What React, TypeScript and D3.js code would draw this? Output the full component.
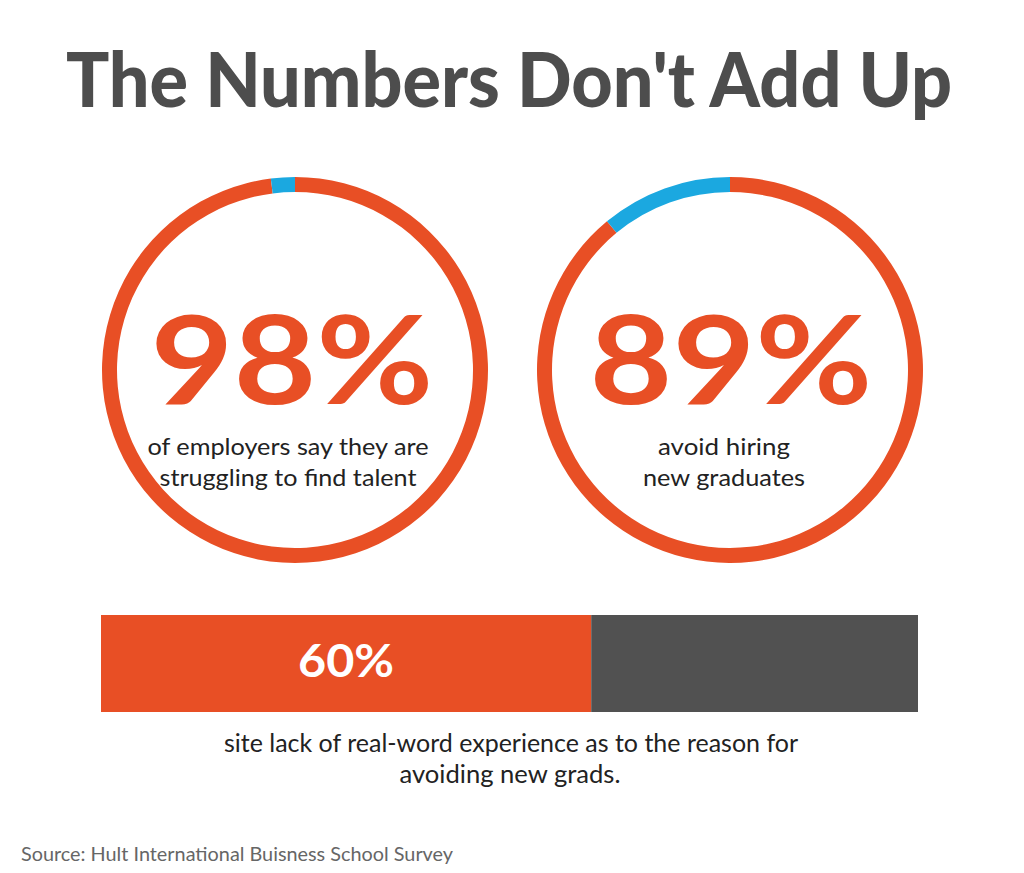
import React from "react";
import * as d3 from "d3";

const title = "The Numbers Don't Add Up";
const ringValues = [98, 89];
const ringNumberLabels = ["98%", "89%"];
const ringCaptions = [
  ["of employers say they are", "struggling to find talent"],
  ["avoid hiring", "new graduates"],
];
const barValue = 60;
const barLabel = "60%";
const barCaption = ["site lack of real-word experience as to the reason for", "avoiding new grads."];
const source = "Source: Hult International Buisness School Survey";

const ORANGE = "#E84F25";
const BLUE = "#1BA8E0";
const GRAY = "#515151";
const FONT = "Lato, 'Open Sans', sans-serif";

export default function App() {
  const W = 1024, H = 873;
  const centers = d3.scaleOrdinal<number, number>().domain([0, 1]).range([295, 730]);
  const cy = 370;
  const outerR = 193, innerR = 178;
  const arc = d3.arc<d3.PieArcDatum<number>>().innerRadius(innerR).outerRadius(outerR);
  const pie = d3.pie<number>().sort(null).value((d) => d);

  const x = d3.scaleLinear().domain([0, 100]).range([101, 918]);
  const barY = 615, barH = 97;

  const numberWidths = [283, 283];
  const captionWidths = [[281, 257], [132, 162]];

  return (
    <svg width={W} height={H} style={{ position: "absolute", left: 0, top: 0, background: "#fff" }}>
      <rect x={0} y={0} width={W} height={H} fill="#fff" />
      <text x={509} y={107} textAnchor="middle" fontFamily={FONT} fontWeight={900} fontSize={76}
        fill="#4d4d4d" textLength={886} lengthAdjust="spacingAndGlyphs">{title}</text>

      {ringValues.map((v, i) => {
        const arcs = pie([v, 100 - v]);
        const cx = centers(i);
        return (
          <g key={i}>
            <g transform={`translate(${cx},${cy})`}>
              {arcs.map((a, j) => (
                <path key={j} d={arc(a) || ""} fill={j === 0 ? ORANGE : BLUE} />
              ))}
            </g>
            <text x={cx - 3 + i * 4} y={404} textAnchor="middle" fontFamily={FONT} fontWeight={700}
              fontSize={122} fill={ORANGE} textLength={numberWidths[i]} lengthAdjust="spacingAndGlyphs">
              {ringNumberLabels[i]}
            </text>
            {ringCaptions[i].map((line, k) => (
              <text key={k} x={cx - 7 + i * 1} y={455 + k * 31} textAnchor="middle" fontFamily={FONT}
                fontSize={24} fill="#222" textLength={captionWidths[i][k]} lengthAdjust="spacingAndGlyphs">
                {line}
              </text>
            ))}
          </g>
        );
      })}

      <rect x={x(0)} y={barY} width={x(barValue) - x(0)} height={barH} fill={ORANGE} />
      <rect x={x(barValue)} y={barY} width={x(100) - x(barValue)} height={barH} fill={GRAY} />
      <text x={(x(0) + x(barValue)) / 2} y={677} textAnchor="middle" fontFamily={FONT} fontWeight={700}
        fontSize={46} fill="#fff" textLength={96} lengthAdjust="spacingAndGlyphs">{barLabel}</text>

      <text x={511} y={752} textAnchor="middle" fontFamily={FONT} fontSize={25} fill="#222"
        textLength={574} lengthAdjust="spacingAndGlyphs">{barCaption[0]}</text>
      <text x={510} y={783} textAnchor="middle" fontFamily={FONT} fontSize={25} fill="#222"
        textLength={221} lengthAdjust="spacingAndGlyphs">{barCaption[1]}</text>

      <text x={21} y={861} fontFamily={FONT} fontSize={19} fill="#666"
        textLength={432} lengthAdjust="spacingAndGlyphs">{source}</text>
    </svg>
  );
}
